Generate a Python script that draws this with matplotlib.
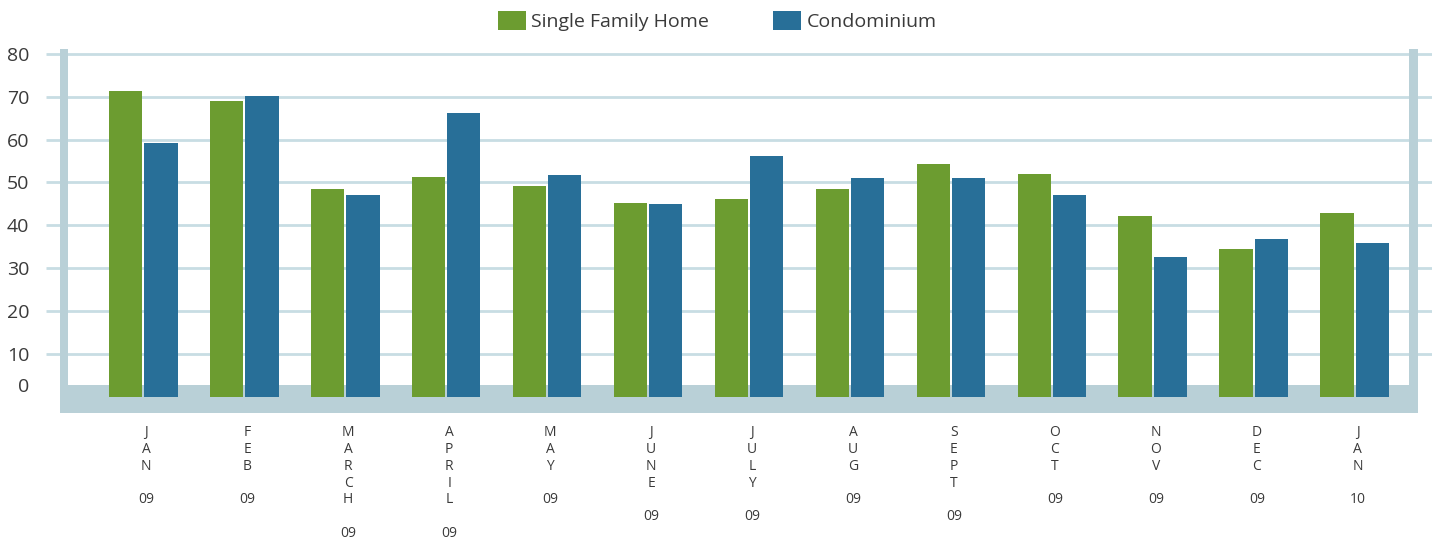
import matplotlib.pyplot as plt
import matplotlib.transforms as mtransforms
import numpy as np

plt.rcParams['font.family'] = ['Open Sans', 'DejaVu Sans']

months = ["JAN", "FEB", "MARCH", "APRIL", "MAY", "JUNE", "JULY",
          "AUG", "SEPT", "OCT", "NOV", "DEC", "JAN"]
years = ["09", "09", "09", "09", "09", "09", "09",
         "09", "09", "09", "09", "09", "10"]
single_family = [71.3, 69.0, 48.5, 51.3, 49.2, 45.2, 46.2, 48.5, 54.3, 52.0, 42.2, 34.5, 42.9]
condo = [59.2, 70.2, 47.1, 66.2, 51.7, 45.0, 56.2, 51.0, 51.0, 47.1, 32.6, 36.8, 35.9]
yticks = [10, 20, 30, 40, 50, 60, 70, 80]

GREEN = "#6c9c30"
BLUE = "#286f98"
WALL = "#b9d0d7"
GRID = "#c8dde3"
TEXT = "#3a3a3a"

W, H = 1432, 541
fig = plt.figure(figsize=(W / 100, H / 100), dpi=100)
# axes spans pixels x 46..1432, y 40..420
ax = fig.add_axes([46 / W, 1 - 420 / H, (1432 - 46) / W, 380 / H])

x = np.arange(len(months))
bw = 0.33
ax.set_xlim(-0.964, 12.766)
ax.set_ylim(-5.36, 83.2)

floor_top, floor_bot = 2.8, -3.73
wall_top = 81.1
lx0, lx1 = -0.825, -0.746
rx0, rx1 = 12.538, 12.627

# gridlines
ax.hlines(yticks, -0.964, 12.766, color=GRID, lw=2, zorder=1)
# floor and the two side walls
ax.fill_between([lx0, rx1], floor_bot, floor_top, color=WALL, lw=0, zorder=2)
ax.fill_between([lx0, lx1], floor_bot, wall_top, color=WALL, lw=0, zorder=2)
ax.fill_between([rx0, rx1], floor_bot, wall_top, color=WALL, lw=0, zorder=2)

b1 = ax.bar(x - bw / 2 - 0.01, single_family, bw, color=GREEN, zorder=3,
            label="Single Family Home")
b2 = ax.bar(x + bw / 2 + 0.01, condo, bw, color=BLUE, zorder=3,
            label="Condominium")

ax.set_yticks([floor_top] + yticks)
ax.set_yticklabels(["0"] + [str(t) for t in yticks], fontsize=14, color=TEXT)
ax.tick_params(axis='y', length=0, pad=12)
ax.set_xticks([])
for s in ax.spines.values():
    s.set_visible(False)

# stacked month labels
trans = mtransforms.blended_transform_factory(ax.transData, fig.transFigure)
for xi, m, yr in zip(x, months, years):
    label = "\n".join(m) + "\n\n" + yr
    ax.text(xi + 0.03, 1 - 425 / H, label, transform=trans, ha='center', va='top',
            fontsize=10, color=TEXT, linespacing=1.17)

fig.legend(handles=[b1, b2], loc='center', bbox_to_anchor=(0.501, 1 - 21 / H),
           ncol=2, frameon=False, fontsize=14, handlelength=1.44, handleheight=1.13,
           handletextpad=0.3, columnspacing=3.3, labelcolor=TEXT)

fig.savefig("out.png", dpi=100)
